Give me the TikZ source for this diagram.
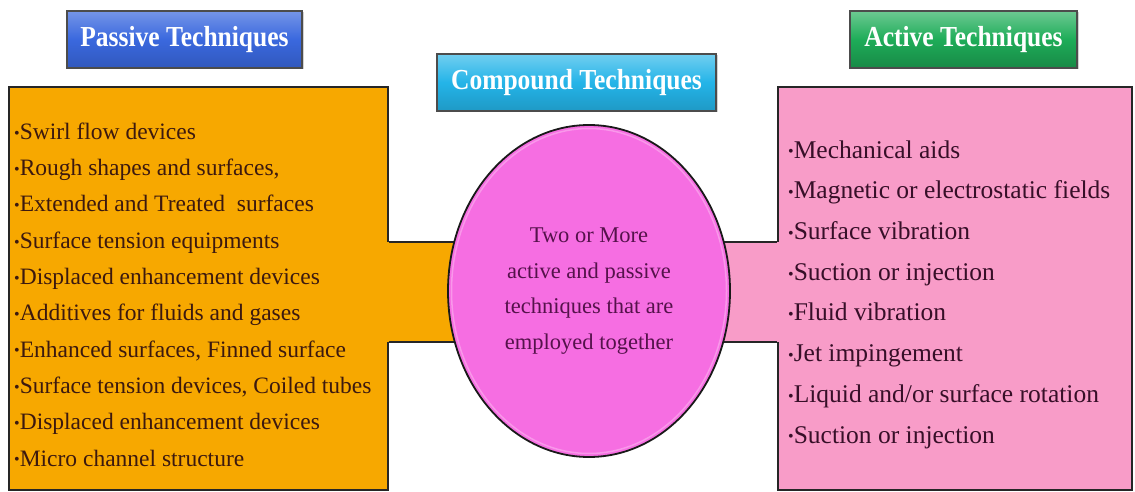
\documentclass[tikz,border=0pt]{standalone}
\usepackage{fontspec}
\setmainfont{Liberation Serif}
\usetikzlibrary{shapes.geometric,shadows}

\definecolor{passblue}{RGB}{58,104,222}
\definecolor{compcyan}{RGB}{36,180,232}
\definecolor{actgreen}{RGB}{30,172,88}
\definecolor{passorange}{RGB}{247,168,0}
\definecolor{actpink}{RGB}{248,156,200}
\definecolor{compmagenta}{RGB}{246,110,226}
\definecolor{passtext}{RGB}{60,25,15}
\definecolor{acttext}{RGB}{55,15,40}
\definecolor{comptext}{RGB}{85,18,75}

\newcommand{\bul}{\raisebox{1.2pt}{\fontsize{16}{16}\selectfont\textbullet}}
\newcommand{\headtext}[1]{\scalebox{0.88}[1]{#1}}

\tikzset{
  headbox/.style={draw=black!70, line width=1.2pt, minimum height=57pt, inner sep=0pt,
    text=white, font=\bfseries\fontsize{29}{29}\selectfont,
    drop shadow={shadow xshift=1.5pt, shadow yshift=-1.5pt, fill=black!35}},
  listbox/.style={draw=black!85, line width=1.6pt, inner sep=0pt},
  listtext/.style={anchor=west, align=left, inner sep=0pt},
  bandline/.style={draw=black!85, line width=1.6pt},
}

\begin{document}
\begin{tikzpicture}[x=1pt,y=-1pt]
    % Fix the page size
    \useasboundingbox (0,0) rectangle (1135,492);

    % Draw the title boxes
    \node[headbox, minimum width=235pt, top color=passblue!70!white, bottom color=passblue!85!black, middle color=passblue]
        (passhead) at (184.5,39.5) {\headtext{Passive Techniques}};
    \node[headbox, minimum width=279pt, top color=compcyan!65!white, bottom color=compcyan!85!black, middle color=compcyan]
        (comphead) at (576.5,82.5) {\headtext{Compound Techniques}};
    \node[headbox, minimum width=227pt, top color=actgreen!65!white, bottom color=actgreen!80!black, middle color=actgreen]
        (acthead) at (963.5,39.5) {\headtext{Active Techniques}};

    % Draw the two list boxes
    \node[listbox, fill=passorange, minimum width=379pt, minimum height=403pt] (passbox) at (198.5,288.5) {};
    \node[listbox, fill=actpink, minimum width=354pt, minimum height=403pt] (actbox) at (955,288.5) {};

    % Define the compound ellipse
    \coordinate (C) at (589,291);

    % Draw the band from the passive box to the ellipse
    \fill[passorange] ([xshift=-2pt]passbox.east |- 0,242) rectangle (C |- 0,342);
    \draw[bandline] (passbox.east |- 0,242) -- (C |- 0,242);
    \draw[bandline] (passbox.east |- 0,342) -- (C |- 0,342);

    % Draw the band from the ellipse to the active box
    \fill[actpink] (C |- 0,242) rectangle ([xshift=2pt]actbox.west |- 0,342);
    \draw[bandline] (C |- 0,242) -- (actbox.west |- 0,242);
    \draw[bandline] (C |- 0,342) -- (actbox.west |- 0,342);

    % Draw the compound ellipse on top, with a light rim inside
    \node[ellipse, draw=black!90, line width=1.8pt, fill=compmagenta, inner sep=0pt,
          minimum width=282pt, minimum height=332pt, text=comptext, align=center,
          font=\fontsize{22.5}{35.6}\selectfont] (comp) at (C)
        {Two or More\\active and passive\\techniques that are\\employed together};
    \draw[compmagenta!72!white, line width=1.5pt] (C) ellipse (137.5 and 162.5);

    % Passive list
    \node[listtext, text=passtext, font=\fontsize{23.5}{36.3}\selectfont] (passlist) at (14,294.5)
        {\bul Swirl flow devices\\
         \bul Rough shapes and surfaces,\\
         \bul Extended and Treated\ \ surfaces\\
         \bul Surface tension equipments\\
         \bul Displaced enhancement devices\\
         \bul Additives for fluids and gases\\
         \bul Enhanced surfaces, Finned surface\\
         \bul Surface tension devices, Coiled tubes\\
         \bul Displaced enhancement devices\\
         \bul Micro channel structure};

    % Active list
    \node[listtext, text=acttext, font=\fontsize{25.5}{40.7}\selectfont] (actlist) at (788,294.5)
        {\bul Mechanical aids\\
         \bul Magnetic or electrostatic fields\\
         \bul Surface vibration\\
         \bul Suction or injection\\
         \bul Fluid vibration\\
         \bul Jet impingement\\
         \bul Liquid and/or surface rotation\\
         \bul Suction or injection};
\end{tikzpicture}
\end{document}
